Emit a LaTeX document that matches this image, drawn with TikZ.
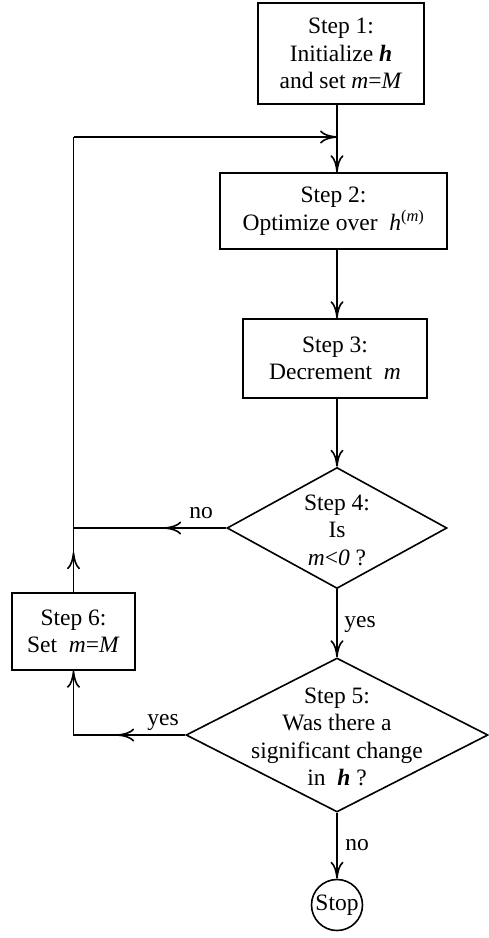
\documentclass[tikz,border=0pt]{standalone}
\usepackage{fontspec}
\setmainfont{Liberation Serif}
\usetikzlibrary{arrows.meta,shapes.geometric,decorations.markings}
\tikzset{
  tip/.tip={Computer Modern Rightarrow[length=17pt,width=13pt]},
  conn/.style={line width=1.6pt},
  stepbox/.style={draw,line width=1.6pt,rectangle,inner sep=0pt,align=center,font=\fontsize{23.5}{27.5}\selectfont},
  decide/.style={draw,line width=1.6pt,diamond,inner sep=0pt},
  txt/.style={align=center,font=\fontsize{23.5}{27.5}\selectfont,inner sep=0pt},
  lab/.style={font=\fontsize{23.5}{27.5}\selectfont,inner sep=0pt,anchor=base},
  midarrow/.style={postaction={decorate},decoration={markings,mark=at position #1 with {\arrow{tip}}}}
}
\begin{document}
\begin{tikzpicture}[x=1pt,y=-1pt]
\useasboundingbox (0,0) rectangle (488,938);
\node[stepbox,minimum width=166pt,minimum height=101pt] (s1) at (341,53.5)
  {Step 1:\\Initialize \textbf{\textit{h}}\\and set \textit{m}=\textit{M}};
\node[stepbox,minimum width=227pt,minimum height=76pt] (s2) at (333.5,211)
  {Step 2:\\Optimize over\ \ \textit{h}\textsuperscript{(\textit{m})}};
\node[stepbox,minimum width=184pt,minimum height=79pt] (s3) at (335,358.5)
  {Step 3:\\Decrement\ \ \textit{m}};
\node[decide,minimum width=220pt,minimum height=121pt] (d4) at (337,528) {};
\node[txt] (t4) at (337,530) {Step 4:\\Is\\\textit{m}<\textit{0} ?};
\node[decide,minimum width=302pt,minimum height=154pt] (d5) at (337,735) {};
\node[txt] (t5) at (337,737) {Step 5:\\Was there a\\significant change\\in\ \ \textbf{\textit{h}} ?};
\node[stepbox,minimum width=123pt,minimum height=77pt] (s6) at (73.5,631.5)
  {Step 6:\\Set\ \ \textit{m}=\textit{M}};
\node[draw,line width=1.6pt,circle,minimum size=51pt,inner sep=0pt,font=\fontsize{23.5}{27.5}\selectfont] (stop) at (337,905) {Stop};
\coordinate (j) at (337,137);
\coordinate (L4) at (73.5,528);
\coordinate (L5) at (73.5,735);
\coordinate (L1) at (73.5,137);
% connectors
\draw[conn,-{tip}] (s1.south -| j) -- (s2.north -| j);
\draw[conn,-{tip}] (s2.south -| j) -- (s3.north -| j);
\draw[conn,-{tip}] (s3.south -| j) -- (d4.north);
\draw[conn,-{tip}] (d4.south) -- (d5.north);
\draw[conn,-{tip}] (d5.south) -- (stop.north);
\draw[conn,midarrow=62pt] (d4.west) -- (L4);
\draw[conn,midarrow=68pt,-{tip}] (d5.west) -- (L5) -- (s6.south);
\draw[conn,midarrow=40pt] (s6.north) -- (L1);
\draw[conn,-{tip}] (L1) -- (j);
% labels
\node[lab] (no1) at (201,518) {no};
\node[lab] (yes1) at (360,627) {yes};
\node[lab] (yes2) at (163,725) {yes};
\node[lab] (no2) at (357,850) {no};
\end{tikzpicture}
\end{document}
